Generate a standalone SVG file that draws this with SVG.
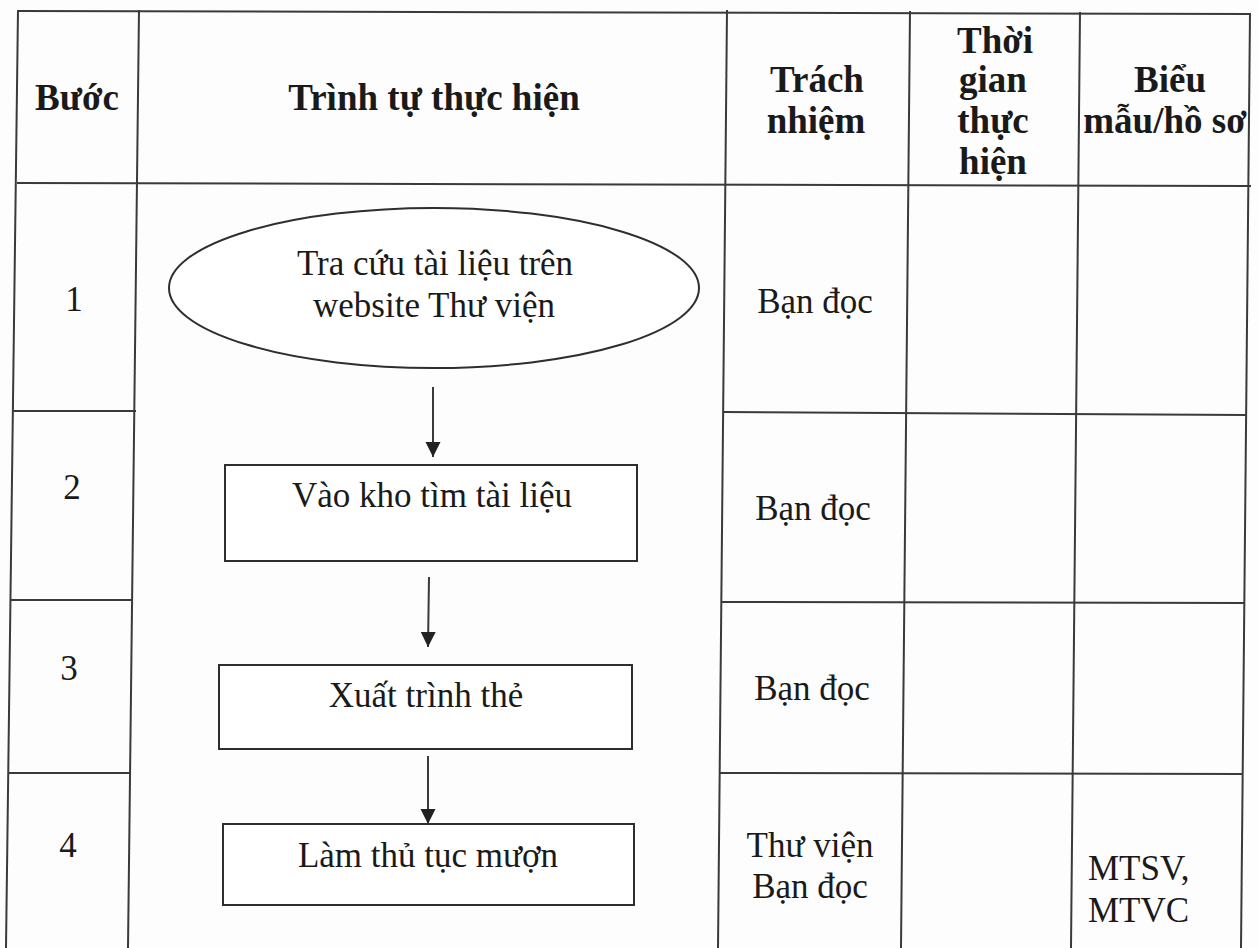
<svg xmlns="http://www.w3.org/2000/svg" width="1258" height="948" viewBox="0 0 1258 948">
<defs>
<style>
.grid{stroke:#3a3a3a;stroke-width:2;fill:none}
.shape{stroke:#2e2e2e;stroke-width:2;fill:#fff}
.conn{stroke:#3a3a3a;stroke-width:2;fill:none}
.h{font-family:"Liberation Serif","Times New Roman",serif;font-weight:bold;font-size:37px;fill:#1a1a1a;text-anchor:middle}
.t{font-family:"Liberation Serif","Times New Roman",serif;font-size:35px;fill:#1a1a1a;text-anchor:middle}
.tl{font-family:"Liberation Serif","Times New Roman",serif;font-size:35px;fill:#1a1a1a}
</style>
<marker id="arr" markerUnits="userSpaceOnUse" markerWidth="16" markerHeight="16" refX="15" refY="7.5" orient="auto">
<path d="M0,0 L15,7.5 L0,15 Z" fill="#222"/>
</marker>
</defs>
<rect x="0" y="0" width="1258" height="948" fill="#fdfdfd"/>
<g id="table">
<line class="grid" x1="17" y1="11" x2="1251" y2="14"/>
<line class="grid" x1="17" y1="183" x2="1251" y2="186"/>
<line class="grid" x1="18" y1="10" x2="6" y2="948"/>
<line class="grid" x1="139" y1="10" x2="128" y2="948"/>
<line class="grid" x1="727" y1="10" x2="718" y2="948"/>
<line class="grid" x1="910" y1="11" x2="901" y2="948"/>
<line class="grid" x1="1080" y1="12" x2="1071" y2="948"/>
<line class="grid" x1="1250" y1="13" x2="1241" y2="948"/>
<line class="grid" x1="13" y1="411" x2="136" y2="411"/>
<line class="grid" x1="11" y1="600" x2="133" y2="600"/>
<line class="grid" x1="9" y1="773" x2="131" y2="773"/>
<line class="grid" x1="724" y1="412" x2="1246" y2="415"/>
<line class="grid" x1="721" y1="602" x2="1244" y2="603"/>
<line class="grid" x1="719" y1="773" x2="1243" y2="774"/>
</g>
<g id="header">
<text class="h" x="77" y="110">Bước</text>
<text class="h" x="434" y="110">Trình tự thực hiện</text>
<text class="h" x="817" y="92">Trách</text>
<text class="h" x="816" y="133">nhiệm</text>
<text class="h" x="995" y="53">Thời</text>
<text class="h" x="993" y="92">gian</text>
<text class="h" x="993" y="133">thực</text>
<text class="h" x="993" y="174">hiện</text>
<text class="h" x="1170" y="92">Biểu</text>
<text class="h" x="1165" y="133">mẫu/hồ sơ</text>
</g>
<g id="steps">
<text class="t" x="74" y="311">1</text>
<text class="t" x="72" y="499">2</text>
<text class="t" x="69" y="680">3</text>
<text class="t" x="68" y="857">4</text>
</g>
<g id="responsibility">
<text class="t" x="815" y="313">Bạn đọc</text>
<text class="t" x="813" y="520">Bạn đọc</text>
<text class="t" x="812" y="700">Bạn đọc</text>
<text class="t" x="810" y="857">Thư viện</text>
<text class="t" x="810" y="898">Bạn đọc</text>
</g>
<g id="forms">
<text class="tl" x="1088" y="880">MTSV,</text>
<text class="tl" x="1088" y="922">MTVC</text>
</g>
<g id="node1">
<ellipse class="shape" cx="434" cy="288" rx="265" ry="80"/>
<text class="t" x="435" y="275">Tra cứu tài liệu trên</text>
<text class="t" x="434" y="317">website Thư viện</text>
</g>
<g id="node2">
<rect class="shape" x="225" y="465" width="412" height="96"/>
<text class="t" x="432" y="507">Vào kho tìm tài liệu</text>
</g>
<g id="node3">
<rect class="shape" x="219" y="665" width="413" height="84"/>
<text class="t" x="426" y="707">Xuất trình thẻ</text>
</g>
<g id="node4">
<rect class="shape" x="223" y="824" width="411" height="81"/>
<text class="t" x="428" y="867">Làm thủ tục mượn</text>
</g>
<g id="connectors">
<line class="conn" x1="433" y1="387" x2="433" y2="457" marker-end="url(#arr)"/>
<line class="conn" x1="429" y1="577" x2="428" y2="647" marker-end="url(#arr)"/>
<line class="conn" x1="428" y1="756" x2="428" y2="824" marker-end="url(#arr)"/>
</g>
</svg>
